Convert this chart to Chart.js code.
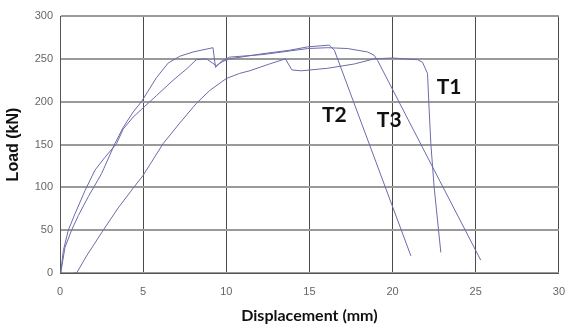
<!DOCTYPE html>
<html>
<head>
<meta charset="utf-8">
<script src="https://cdn.jsdelivr.net/npm/chart.js@4"></script>
<style>
  html, body { margin: 0; padding: 0; background: #fff; }
  #wrap { width: 577px; height: 329px; position: relative; }
</style>
</head>
<body>
<div id="wrap"><canvas id="grafico"></canvas></div>
<script>
// valores (deslocamento em mm, carga em kN)
const t1Disp = [0.8, 1.0, 1.6, 2.6, 3.5, 4.4, 5.0, 6.2, 7.2, 8.2, 9.0, 10.0, 10.8, 11.4, 12.6, 13.55, 13.95, 14.5, 16.1, 17.7, 18.9, 20.0, 21.5, 21.8, 22.1, 22.2, 22.3, 22.5, 22.9];
const t1Load = [0, 0, 20, 50, 76, 99, 114, 151, 175, 198, 213, 227, 233, 236, 244, 250, 237, 236, 239, 244, 250, 251, 249, 246, 233, 190, 151, 100, 24];

const t2Disp = [0, 0.06, 0.2, 0.5, 0.9, 1.5, 2.1, 2.7, 3.4, 3.8, 4.4, 4.9, 5.8, 6.8, 7.6, 8.2, 8.8, 9.4, 9.8, 10.2, 12.2, 13.8, 14.9, 16.2, 16.5, 21.1];
const t2Load = [0, 3, 26, 50, 69, 96, 120, 135, 151, 168, 182, 191, 207, 225, 238, 249, 250, 242, 247, 250, 256, 260, 264, 266, 260, 20];

const t3Disp = [0, 0.06, 0.3, 0.7, 1.1, 1.7, 2.5, 3.3, 3.8, 4.4, 4.9, 5.8, 6.5, 7.2, 8.0, 9.2, 9.35, 9.7, 10.2, 12.2, 14.9, 16.1, 17.3, 18.5, 18.9, 19.1, 25.3];
const t3Load = [0, 2, 30, 50, 67, 89, 116, 151, 170, 188, 200, 228, 245, 253, 258, 263, 240, 247, 252, 255, 262, 263, 262, 258, 254, 248, 15];

const xTicks = [0, 5, 10, 15, 20, 25, 30];
const yTicks = [0, 50, 100, 150, 200, 250, 300];

// rótulos das curvas, em coordenadas dos dados
const rotulos = ['T1', 'T2', 'T3'];
const rotuloX = [23.4, 16.5, 19.8];
const rotuloY = [217, 184, 178];

const corLinha = '#6b6bab';

function pares(xs, ys) {
  return xs.map((x, i) => ({ x: x, y: ys[i] }));
}

const pluginRotulos = {
  id: 'rotulos',
  afterDatasetsDraw(chart) {
    const ctx = chart.ctx;
    const sx = chart.scales.x, sy = chart.scales.y;
    ctx.save();
    ctx.font = 'bold 21px Lato';
    ctx.fillStyle = '#111';
    ctx.textAlign = 'center';
    ctx.textBaseline = 'middle';
    rotulos.forEach((t, i) => {
      ctx.fillText(t, sx.getPixelForValue(rotuloX[i]), sy.getPixelForValue(rotuloY[i]));
    });
    ctx.restore();
  }
};

new Chart(document.getElementById('grafico'), {
  type: 'scatter',
  data: {
    datasets: [
      { label: 'T1', data: pares(t1Disp, t1Load) },
      { label: 'T2', data: pares(t2Disp, t2Load) },
      { label: 'T3', data: pares(t3Disp, t3Load) }
    ].map(d => Object.assign(d, {
      showLine: true,
      borderColor: corLinha,
      borderWidth: 1,
      pointRadius: 0,
      tension: 0
    }))
  },
  options: {
    responsive: true,
    maintainAspectRatio: false,
    animation: false,
    layout: { padding: { top: 16, right: 15, left: 0, bottom: 0 } },
    plugins: { legend: { display: false }, tooltip: { enabled: false } },
    scales: {
      x: {
        type: 'linear',
        min: 0, max: 30,
        afterBuildTicks: s => { s.ticks = xTicks.map(v => ({ value: v })); },
        afterFit: s => { s.height = 56; },
        grid: { color: '#4a4a4a', lineWidth: 1, drawTicks: false },
        border: { color: '#555' },
        ticks: { color: '#666', font: { family: 'Liberation Sans', size: 11 }, padding: 12 },
        title: {
          display: true,
          text: 'Displacement (mm)',
          color: '#111',
          font: { family: 'Lato', size: 16, weight: 'bold' },
          padding: { top: 8 }
        }
      },
      y: {
        min: 0, max: 300,
        afterBuildTicks: s => { s.ticks = yTicks.map(v => ({ value: v })); },
        afterFit: s => { s.width = 60; },
        grid: { color: '#9a9a9a', lineWidth: 2, drawTicks: false },
        border: { color: '#555' },
        ticks: { color: '#666', font: { family: 'Liberation Sans', size: 11 }, padding: 7 },
        title: {
          display: true,
          text: 'Load (kN)',
          color: '#111',
          font: { family: 'Liberation Sans', size: 16, weight: 'bold' },
          padding: { bottom: 6 }
        }
      }
    }
  },
  plugins: [pluginRotulos]
});
</script>
</body>
</html>
